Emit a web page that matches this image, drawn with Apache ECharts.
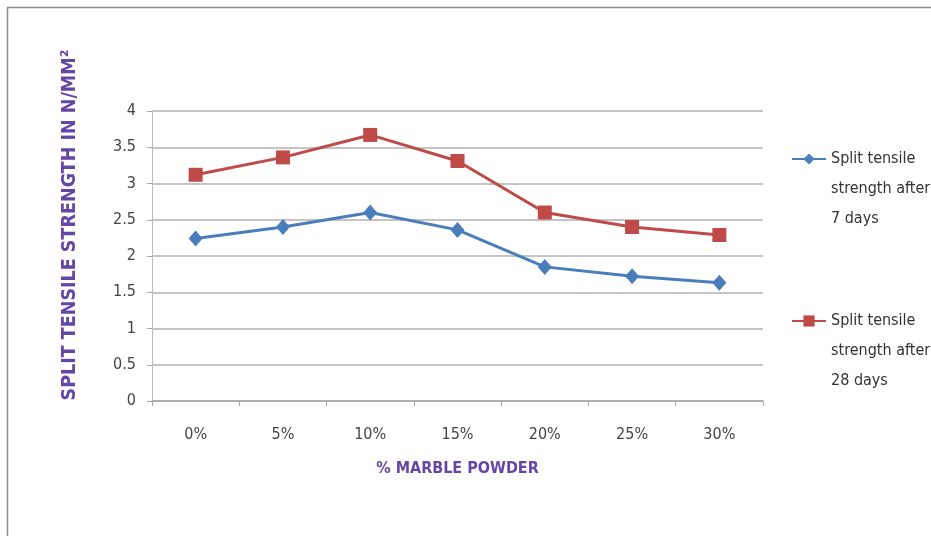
<!DOCTYPE html>
<html>
<head>
<meta charset="utf-8">
<script src="https://cdn.jsdelivr.net/npm/echarts@6/dist/echarts.min.js"></script>
<style>
html,body{margin:0;padding:0;background:#fff;}
#chart{width:931px;height:536px;}
</style>
</head>
<body>
<div id="chart"></div>
<script>
// Marble powder replacement levels and split tensile strength (N/mm²)
const categories = ['0%', '5%', '10%', '15%', '20%', '25%', '30%'];
const strength7Days = [2.24, 2.40, 2.60, 2.36, 1.85, 1.72, 1.63];
const strength28Days = [3.12, 3.36, 3.67, 3.31, 2.60, 2.40, 2.29];
const seriesNames = [
  'Split tensile\nstrength after\n7 days',
  'Split tensile\nstrength after\n28 days'
];
const yTicks = { min: 0, max: 4, interval: 0.5 };

const FONT = '"DejaVu Sans Condensed", "Liberation Sans Narrow", "Open Sans", sans-serif';
const PURPLE = '#6446a6';

const chart = echarts.init(document.getElementById('chart'), null, { renderer: 'canvas' });

chart.setOption({
  animation: false,
  backgroundColor: '#ffffff',
  grid: { left: 152, right: 168, top: 111, bottom: 135 },
  graphic: [
    {
      type: 'rect',
      shape: { x: 7.5, y: 7.5, width: 940, height: 560 },
      style: { fill: 'none', stroke: '#8c8c8c', lineWidth: 1.5 },
      silent: true
    },
    {
      type: 'text',
      x: 70, y: 225,
      rotation: Math.PI / 2,
      style: {
        text: 'SPLIT TENSILE STRENGTH IN N/MM²',
        font: 'bold 19.5px "DejaVu Sans Condensed", "Open Sans", sans-serif',
        fill: PURPLE,
        align: 'center',
        verticalAlign: 'middle'
      }
    }
  ],
  legend: {
    orient: 'vertical',
    left: 786,
    top: 79,
    itemWidth: 34,
    itemHeight: 14,
    itemGap: 12,
    selectedMode: false,
    // two leading blank lines keep the icon level with the first text line
    formatter: function (name) { return '\n\n' + name; },
    textStyle: {
      fontFamily: FONT,
      fontSize: 16,
      color: '#333',
      lineHeight: 30
    },
    data: seriesNames
  },
  xAxis: {
    type: 'category',
    data: categories,
    boundaryGap: true,
    name: '% MARBLE POWDER',
    nameLocation: 'middle',
    nameGap: 60,
    nameTextStyle: { fontFamily: FONT, fontWeight: 'bold', fontSize: 16, color: PURPLE },
    axisLine: { show: true, lineStyle: { color: '#a8a8a8', width: 1.5 } },
    axisTick: { show: true, alignWithLabel: false, length: 5, lineStyle: { color: '#a8a8a8' } },
    axisLabel: { margin: 26, fontFamily: FONT, fontSize: 16, color: '#444' },
    splitLine: { show: false }
  },
  yAxis: {
    type: 'value',
    min: yTicks.min,
    max: yTicks.max,
    interval: yTicks.interval,
    axisLine: { show: true, lineStyle: { color: '#bdbdbd', width: 1 } },
    axisTick: { show: true, length: 5, lineStyle: { color: '#a8a8a8' } },
    axisLabel: { margin: 16, fontFamily: FONT, fontSize: 16, color: '#444' },
    splitLine: { show: true, lineStyle: { color: '#b0b0b0', width: 1.5 } }
  },
  series: [
    {
      name: seriesNames[0],
      type: 'line',
      data: strength7Days,
      symbol: 'diamond',
      symbolSize: [14, 16],
      itemStyle: { color: '#4a7ebb' },
      lineStyle: { color: '#4a7ebb', width: 3 }
    },
    {
      name: seriesNames[1],
      type: 'line',
      data: strength28Days,
      symbol: 'rect',
      symbolSize: 14,
      itemStyle: { color: '#be4b48' },
      lineStyle: { color: '#be4b48', width: 3 }
    }
  ]
});
</script>
</body>
</html>
